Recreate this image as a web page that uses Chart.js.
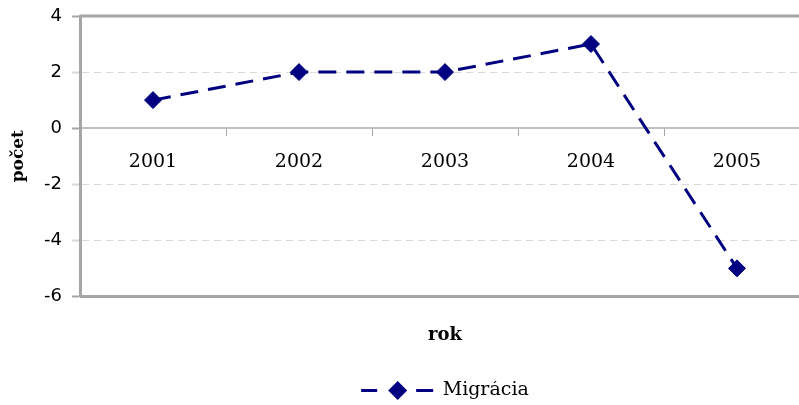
<!DOCTYPE html>
<html>
<head>
<meta charset="utf-8">
<script src="https://cdn.jsdelivr.net/npm/chart.js@4.4.0/dist/chart.umd.min.js"></script>
<style>
  html, body { margin: 0; padding: 0; background: #fff; overflow: hidden; }
</style>
</head>
<body>
<canvas id="graf" width="820" height="405"></canvas>
<script>
const roky = ['2001', '2002', '2003', '2004', '2005'];
const migracia = [1, 2, 2, 3, -5];
const yTicky = [4, 2, 0, -2, -4, -6];

const modra = '#000080';
const siva = '#a6a6a6';

// ramik hore a dole + znacka legendy (ciarkovana ciara s kosostvorcom)
const doplnky = {
  id: 'doplnky',
  afterDraw(chart) {
    const c = chart.ctx;
    const a = chart.chartArea;
    c.save();
    c.strokeStyle = siva;
    c.lineWidth = 3;
    c.beginPath();
    c.moveTo(a.left, a.top);
    c.lineTo(a.right, a.top);
    c.moveTo(a.left, a.bottom);
    c.lineTo(a.right, a.bottom);
    c.stroke();

    const boxy = chart.legend.legendHitBoxes;
    boxy.forEach(b => {
      const y = b.top + b.height / 2;
      const x = b.left;
      c.strokeStyle = modra;
      c.lineWidth = 3;
      c.beginPath();
      c.moveTo(x, y);
      c.lineTo(x + 16, y);
      c.moveTo(x + 55, y);
      c.lineTo(x + 72, y);
      c.stroke();
      c.fillStyle = modra;
      c.beginPath();
      c.moveTo(x + 36.5, y - 9.5);
      c.lineTo(x + 46, y);
      c.lineTo(x + 36.5, y + 9.5);
      c.lineTo(x + 27, y);
      c.closePath();
      c.fill();
    });
    c.restore();
  }
};

new Chart(document.getElementById('graf'), {
  type: 'line',
  data: {
    labels: roky,
    datasets: [{
      label: 'Migrácia',
      data: migracia,
      borderColor: modra,
      backgroundColor: modra,
      borderWidth: 3,
      borderDash: [18, 10],
      tension: 0,
      pointStyle: 'rectRot',
      pointRadius: 8.5,
      pointBackgroundColor: modra,
      pointBorderColor: modra,
      pointBorderWidth: 1
    }]
  },
  options: {
    responsive: false,
    animation: false,
    devicePixelRatio: 1,
    layout: {
      padding: { top: 16, right: 10, left: 0, bottom: -5 }
    },
    scales: {
      x: {
        position: { y: 0 },
        offset: true,
        grid: {
          offset: true,
          drawOnChartArea: false,
          drawTicks: true,
          tickLength: 7,
          tickColor: siva,
          tickWidth: 1
        },
        border: { display: true, color: '#c0c0c0', width: 2 },
        ticks: {
          padding: 16,
          color: '#000',
          font: { family: 'DejaVu Serif', size: 19 }
        }
      },
      y: {
        min: -6,
        max: 4,
        afterFit(scale) {
          scale.width = 80;
          scale.paddingTop = 0;
          scale.paddingBottom = 0;
        },
        afterBuildTicks(scale) {
          scale.ticks = yTicky.map(v => ({ value: v }));
        },
        grid: {
          color: ctx => (ctx.tick && [4, 0, -6].includes(ctx.tick.value)) ? 'rgba(0,0,0,0)' : '#d9d9d9',
          lineWidth: 1,
          tickLength: 8,
          tickColor: ctx => (ctx.tick && ctx.tick.value === 2) || (ctx.tick && ctx.tick.value < 0 && ctx.tick.value > -6) ? '#d9d9d9' : siva,
          tickBorderDash: [],
          tickWidth: 2
        },
        border: { display: true, color: siva, width: 3, dash: [7, 5] },
        ticks: {
          padding: 10,
          color: '#000',
          font: { family: 'DejaVu Sans', size: 18 }
        },
        title: {
          display: true,
          text: 'počet',
          color: '#000',
          padding: { top: 8, bottom: 0 },
          font: { family: 'DejaVu Serif', size: 17, weight: 'bold' }
        }
      }
    },
    plugins: {
      title: {
        display: true,
        text: 'rok',
        position: 'bottom',
        fullSize: false,
        weight: 500,
        color: '#000',
        padding: { top: 28, bottom: 35 },
        font: { family: 'DejaVu Serif', size: 18, weight: 'bold' }
      },
      legend: {
        display: true,
        position: 'bottom',
        fullSize: false,
        labels: {
          boxWidth: 72,
          boxHeight: 19,
          padding: 0,
          color: '#000',
          font: { family: 'DejaVu Serif', size: 19 },
          generateLabels(chart) {
            const pol = Chart.defaults.plugins.legend.labels.generateLabels(chart);
            pol.forEach(p => {
              p.fillStyle = 'rgba(0,0,0,0)';
              p.strokeStyle = 'rgba(0,0,0,0)';
              p.lineWidth = 0;
            });
            return pol;
          }
        }
      },
      tooltip: { enabled: false }
    }
  },
  plugins: [doplnky]
});
</script>
</body>
</html>
